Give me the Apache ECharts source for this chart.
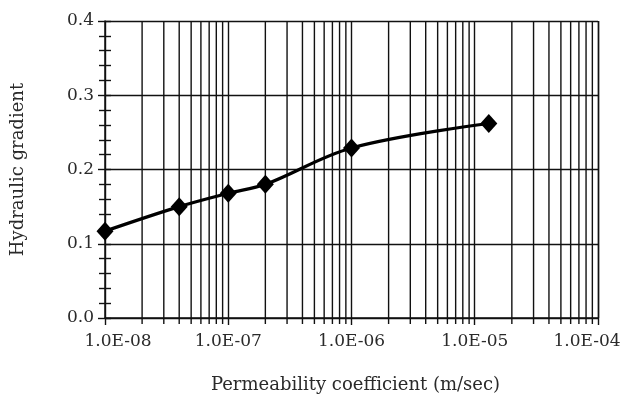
<!DOCTYPE html>
<html>
<head>
<meta charset="utf-8">
<script src="https://cdn.jsdelivr.net/npm/echarts@6/dist/echarts.min.js"></script>
<style>
  html, body { margin: 0; padding: 0; background: #fff; }
  #chart { width: 624px; height: 398px; }
</style>
</head>
<body>
<div id="chart"></div>
<script>
// Permeability coefficient (m/sec) vs hydraulic gradient
const permeability = [1e-8, 4e-8, 1e-7, 2e-7, 1e-6, 1.3e-5];
const gradient = [0.117, 0.150, 0.168, 0.180, 0.229, 0.262];

const xTickLabels = ['1.0E-08', '1.0E-07', '1.0E-06', '1.0E-05', '1.0E-04'];
const yTickLabels = ['0.0', '0.1', '0.2', '0.3', '0.4'];

const xMin = 1e-8, xMax = 1e-4;
const yMin = 0, yMax = 0.4;

// log minor gridline positions: 2..9 within each decade
const minorX = [];
for (let e = -8; e < -4; e++) {
  for (let m = 2; m <= 9; m++) minorX.push(m * Math.pow(10, e));
}

const serif = '"DejaVu Serif", serif';
const ink = '#111';
const textInk = '#2a2a2a';

const chart = echarts.init(document.getElementById('chart'), null, { renderer: 'canvas' });

chart.setOption({
  animation: false,
  backgroundColor: '#fff',
  grid: { left: 105, right: 26, top: 21, bottom: 80, outerBoundsMode: 'none', containLabel: false },
  xAxis: {
    type: 'log',
    logBase: 10,
    min: xMin,
    max: xMax,
    name: 'Permeability coefficient (m/sec)',
    nameLocation: 'middle',
    nameGap: 58,
    nameTextStyle: { fontFamily: serif, fontSize: 18, color: textInk, padding: [0, 0, 0, 8] },
    axisLine: { show: true, lineStyle: { color: ink, width: 1.5 } },
    axisTick: { show: true, length: 7, lineStyle: { color: ink, width: 1.4 } },
    splitLine: { show: true, lineStyle: { color: ink, width: 1.4 } },
    axisLabel: {
      fontFamily: serif, fontSize: 17, color: textInk, margin: 15,
      formatter: function (v) {
        const i = Math.round(Math.log10(v)) + 8;
        const t = xTickLabels[i] || '';
        // end labels are nudged inward to stay within the page
        if (i === 0) return '{first|' + t + '}';
        if (i === xTickLabels.length - 1) return '{last|' + t + '}';
        return t;
      },
      rich: {
        first: { fontFamily: serif, fontSize: 17, color: textInk, padding: [0, 0, 0, 26] },
        last: { fontFamily: serif, fontSize: 17, color: textInk, padding: [0, 22, 0, 0] }
      }
    }
  },
  yAxis: [
    {
      type: 'value',
      position: 'left',
      min: yMin,
      max: yMax,
      interval: 0.1,
      name: 'Hydraulic gradient',
      nameLocation: 'middle',
      nameGap: 78,
      nameTextStyle: { fontFamily: serif, fontSize: 18, color: textInk },
      axisLine: { show: true, lineStyle: { color: ink, width: 1.5 } },
      axisTick: { show: true, length: 7, lineStyle: { color: ink, width: 1.4 } },
      minorTick: { show: true, splitNumber: 5, length: 6, lineStyle: { color: ink, width: 1.4 } },
      splitLine: { show: true, lineStyle: { color: ink, width: 1.4 } },
      axisLabel: {
        fontFamily: serif, fontSize: 17, color: textInk, margin: 11,
        formatter: function (v) { return yTickLabels[Math.round(v * 10)] || ''; }
      }
    },
    {
      // inward half of the crossing ticks on the left axis
      type: 'value',
      position: 'left',
      offset: 0,
      min: yMin,
      max: yMax,
      interval: 0.1,
      axisLine: { show: false },
      axisTick: { show: true, inside: true, length: 6, lineStyle: { color: ink, width: 1.4 } },
      minorTick: { show: true, splitNumber: 5, length: 6, lineStyle: { color: ink, width: 1.4 } },
      splitLine: { show: false },
      axisLabel: { show: false }
    }
  ],
  series: [
    {
      // minor log gridlines with short ticks below the axis
      type: 'custom',
      silent: true,
      clip: false,
      z: 1,
      data: minorX.map(function (x) { return [x]; }),
      renderItem: function (params, api) {
        const top = api.coord([api.value(0), yMax]);
        const bot = api.coord([api.value(0), yMin]);
        return {
          type: 'line',
          shape: { x1: top[0], y1: top[1], x2: bot[0], y2: bot[1] + 6 },
          style: { stroke: ink, lineWidth: 1.4 }
        };
      }
    },
    {
      type: 'line',
      z: 5,
      smooth: 0.35,
      data: permeability.map(function (x, i) { return [x, gradient[i]]; }),
      lineStyle: { color: '#000', width: 3.2 },
      symbol: 'diamond',
      symbolSize: [17, 19],
      itemStyle: { color: '#000' }
    }
  ]
});
</script>
</body>
</html>
